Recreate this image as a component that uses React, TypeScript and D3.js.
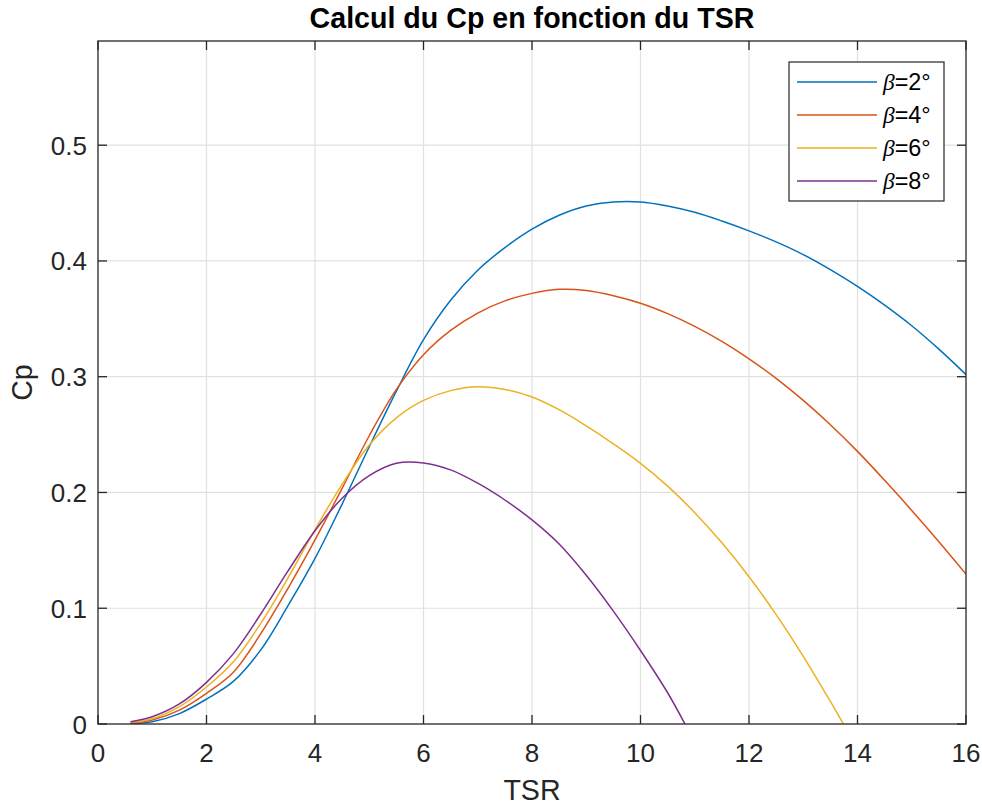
import React from "react";
import * as d3 from "d3";

const tsr = [0.6, 1, 1.5, 2, 2.5, 3, 3.5, 4, 4.5, 5, 5.5, 6, 6.5, 7, 7.5, 8, 8.5, 9, 9.5, 10, 10.5, 11, 11.5, 12, 12.5, 13, 13.5, 14, 14.5, 15, 15.5, 16];

const cpBeta2 = [0.0005, 0.002, 0.009, 0.0215, 0.037, 0.064, 0.102, 0.143, 0.19, 0.2395, 0.2875, 0.332, 0.366, 0.392, 0.4115, 0.4275, 0.4395, 0.4475, 0.451, 0.451, 0.4475, 0.442, 0.4345, 0.426, 0.4165, 0.4055, 0.3925, 0.378, 0.3618, 0.344, 0.3238, 0.3018];
const cpBeta4 = [0.001, 0.0035, 0.012, 0.0265, 0.045, 0.078, 0.117, 0.159, 0.2036, 0.249, 0.289, 0.319, 0.34, 0.355, 0.3655, 0.372, 0.3755, 0.3745, 0.37, 0.3635, 0.3545, 0.3435, 0.3305, 0.3155, 0.2985, 0.2795, 0.2585, 0.2355, 0.2105, 0.1845, 0.1575, 0.1295];
const cpBeta6 = [0.0015, 0.0046, 0.015, 0.032, 0.054, 0.087, 0.126, 0.168, 0.207, 0.241, 0.2645, 0.2795, 0.288, 0.2914, 0.289, 0.2825, 0.2715, 0.2575, 0.242, 0.2252, 0.2055, 0.1825, 0.1565, 0.1272, 0.0945, 0.0585, 0.0195];
const cpBeta8 = [0.002, 0.0063, 0.0173, 0.036, 0.061, 0.095, 0.132, 0.167, 0.195, 0.2145, 0.2252, 0.2255, 0.2195, 0.208, 0.1935, 0.1763, 0.1555, 0.1285, 0.0975, 0.0635, 0.027];
const zeroCrossTsr = [null, null, 13.74, 10.82];

const seriesLabels = ["2", "4", "6", "8"];
const colors = ["#0072BD", "#D95319", "#EDB120", "#7E2F8E"];

const xTicks = [0, 2, 4, 6, 8, 10, 12, 14, 16];
const yTicks = [0, 0.1, 0.2, 0.3, 0.4, 0.5];

const W = 982, H = 805;
const L = 98, R = 966, T = 41, B = 724;
const FONT = "'Liberation Sans', Arial, Helvetica, sans-serif";
const AX = "#262626";

export default function App() {
  const x = d3.scaleLinear().domain([0, 16]).range([L, R]);
  const y = d3.scaleLinear().domain([0, 0.59]).range([B, T]);
  const all = [cpBeta2, cpBeta4, cpBeta6, cpBeta8];
  const line = d3
    .line<[number, number]>()
    .x((d) => x(d[0]))
    .y((d) => y(d[1]))
    .curve(d3.curveCatmullRom.alpha(0.5));
  const paths = all.map((vals, i) => {
    const pts: [number, number][] = vals.map((v, j) => [tsr[j], v]);
    const z = zeroCrossTsr[i];
    if (z !== null) pts.push([z, 0]);
    return line(pts) || "";
  });
  const tickLen = 9;
  const legX = 789, legY = 62, legW = 155, legH = 139;
  const rowY = [82, 115, 148, 181];
  return (
    <svg width={W} height={H} style={{ position: "absolute", left: 0, top: 0, background: "#fff" }}>
      <rect x={0} y={0} width={W} height={H} fill="#fff" />
      <defs>
        <clipPath id="plotclip">
          <rect x={L} y={T} width={R - L} height={B - T} />
        </clipPath>
      </defs>
      {xTicks.slice(1, -1).map((t) => (
        <line key={"gx" + t} x1={x(t)} x2={x(t)} y1={T} y2={B} stroke="#e1e1e1" strokeWidth={1.2} />
      ))}
      {yTicks.slice(1).map((t) => (
        <line key={"gy" + t} x1={L} x2={R} y1={y(t)} y2={y(t)} stroke="#e1e1e1" strokeWidth={1.2} />
      ))}
      <g clipPath="url(#plotclip)">
        {paths.map((p, i) => (
          <path key={i} d={p} fill="none" stroke={colors[i]} strokeWidth={1.5} />
        ))}
      </g>
      <rect x={L} y={T} width={R - L} height={B - T} fill="none" stroke={AX} strokeWidth={1.3} />
      {xTicks.map((t) => (
        <g key={"tx" + t}>
          <line x1={x(t)} x2={x(t)} y1={B} y2={B - tickLen} stroke={AX} strokeWidth={1.3} />
          <line x1={x(t)} x2={x(t)} y1={T} y2={T + tickLen} stroke={AX} strokeWidth={1.3} />
          <text x={x(t)} y={762} textAnchor="middle" fontFamily={FONT} fontSize={26} fill={AX}>
            {t}
          </text>
        </g>
      ))}
      {yTicks.map((t) => (
        <g key={"ty" + t}>
          <line x1={L} x2={L + tickLen} y1={y(t)} y2={y(t)} stroke={AX} strokeWidth={1.3} />
          <line x1={R} x2={R - tickLen} y1={y(t)} y2={y(t)} stroke={AX} strokeWidth={1.3} />
          <text x={87} y={y(t) + 9.5} textAnchor="end" fontFamily={FONT} fontSize={26} fill={AX}>
            {t}
          </text>
        </g>
      ))}
      <text x={(L + R) / 2} y={800} textAnchor="middle" fontFamily={FONT} fontSize={28.6} fill={AX}>
        TSR
      </text>
      <text
        transform={`translate(32,${(T + B) / 2}) rotate(-90)`}
        textAnchor="middle"
        fontFamily={FONT}
        fontSize={28.6}
        fill={AX}
      >
        Cp
      </text>
      <text x={(L + R) / 2} y={28} textAnchor="middle" fontFamily={FONT} fontSize={28.6} fontWeight="bold" fill="#000">
        Calcul du Cp en fonction du TSR
      </text>
      <rect x={legX} y={legY} width={legW} height={legH} fill="#fff" stroke={AX} strokeWidth={1.2} />
      {seriesLabels.map((s, i) => (
        <g key={"lg" + i}>
          <line x1={797} x2={877} y1={rowY[i]} y2={rowY[i]} stroke={colors[i]} strokeWidth={1.5} />
          <text x={883} y={rowY[i] + 8} fontFamily={FONT} fontSize={23.4} fill="#000">
            <tspan fontFamily="'Liberation Serif', 'DejaVu Serif', serif" fontStyle="italic">
              β
            </tspan>
            <tspan>{`=${s}°`}</tspan>
          </text>
        </g>
      ))}
    </svg>
  );
}
